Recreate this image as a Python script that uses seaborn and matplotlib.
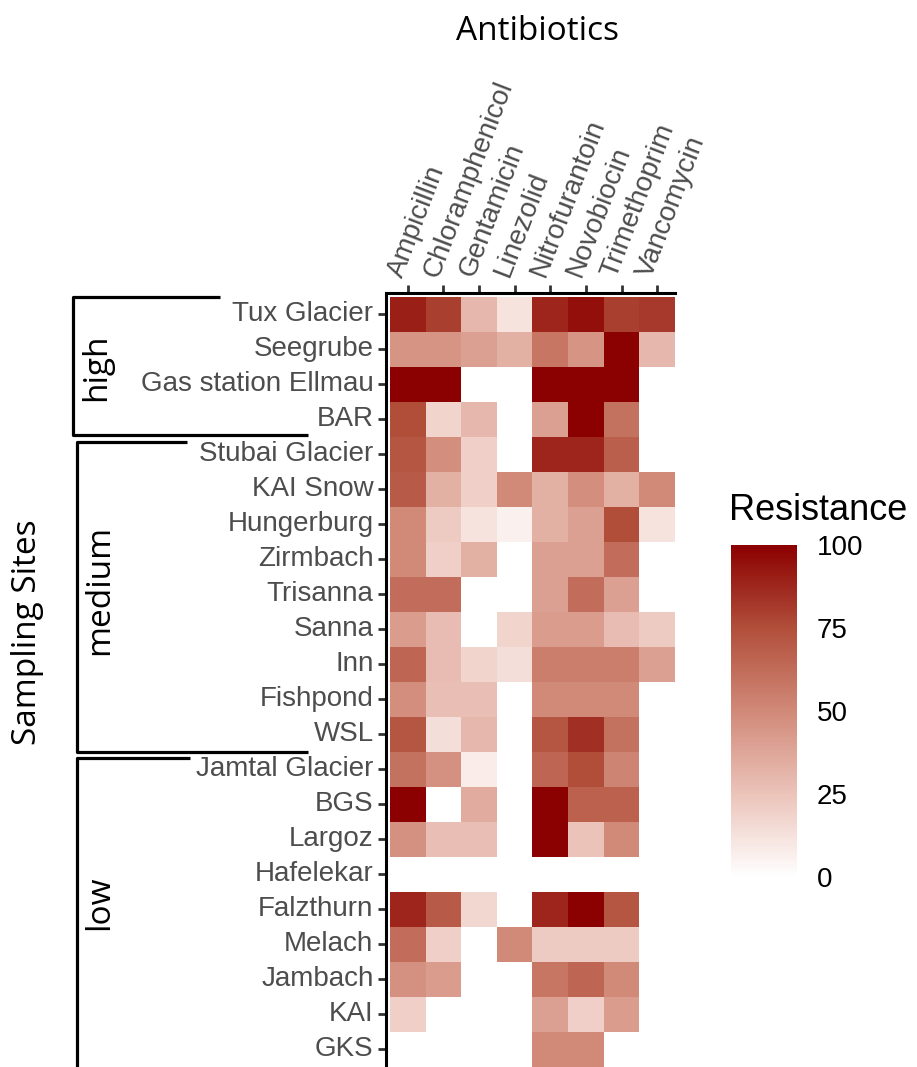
import matplotlib
matplotlib.use("Agg")
import matplotlib.pyplot as plt
from matplotlib.colors import LinearSegmentedColormap
from matplotlib.lines import Line2D
import seaborn as sns
import pandas as pd

# data (percent resistant isolates)
sites = ["Tux Glacier", "Seegrube", "Gas station Ellmau", "BAR", "Stubai Glacier",
         "KAI Snow", "Hungerburg", "Zirmbach", "Trisanna", "Sanna", "Inn", "Fishpond",
         "WSL", "Jamtal Glacier", "BGS", "Largoz", "Hafelekar", "Falzthurn", "Melach",
         "Jambach", "KAI", "GKS"]
antibiotics = ["Ampicillin", "Chloramphenicol", "Gentamicin", "Linezolid",
               "Nitrofurantoin", "Novobiocin", "Trimethoprim", "Vancomycin"]

ampicillin = [90, 45, 100, 75, 72, 70, 50, 50, 62, 42, 65, 48, 72, 60, 100, 47, 0, 88, 62, 47, 20, 0]
chloramphenicol = [80, 45, 100, 18, 48, 33, 22, 20, 62, 28, 28, 27, 14, 47, 0, 27, 0, 70, 20, 42, 0, 0]
gentamicin = [30, 40, 0, 30, 20, 20, 12, 33, 0, 0, 18, 27, 30, 8, 35, 27, 0, 17, 0, 0, 0, 0]
linezolid = [12, 33, 0, 0, 0, 50, 6, 0, 0, 18, 14, 0, 0, 0, 0, 0, 0, 0, 50, 0, 0, 0]
nitrofurantoin = [88, 58, 100, 40, 88, 33, 33, 40, 40, 42, 55, 50, 72, 65, 100, 100, 0, 88, 22, 58, 40, 50]
novobiocin = [95, 45, 100, 100, 88, 48, 40, 40, 62, 42, 55, 50, 85, 75, 67, 25, 0, 100, 22, 65, 20, 50]
trimethoprim = [80, 100, 100, 60, 68, 33, 75, 62, 40, 28, 55, 50, 60, 52, 67, 50, 0, 72, 22, 50, 42, 0]
vancomycin = [82, 30, 0, 0, 0, 50, 12, 0, 0, 22, 40, 0, 0, 0, 0, 0, 0, 0, 0, 0, 0, 0]

groups = ["high", "medium", "low"]

df = pd.DataFrame({
    "Ampicillin": ampicillin,
    "Chloramphenicol": chloramphenicol,
    "Gentamicin": gentamicin,
    "Linezolid": linezolid,
    "Nitrofurantoin": nitrofurantoin,
    "Novobiocin": novobiocin,
    "Trimethoprim": trimethoprim,
    "Vancomycin": vancomycin,
}, index=sites)[antibiotics]

# white -> darkred, interpolated in Lab like ggplot
cmap = LinearSegmentedColormap.from_list(
    "res", [(0, "#FFFFFF"), (0.25, "#EBC3B9"), (0.5, "#D18978"), (0.75, "#B14F3B"), (1, "#8B0000")])

W, H = 917, 1067
fig = plt.figure(figsize=(W / 100, H / 100), dpi=100)
sns.set_style("white")
plt.rcParams["font.family"] = ["Liberation Sans", "DejaVu Sans"]

ax = fig.add_axes([386 / W, 0, 289 / W, 774 / H])
cax = fig.add_axes([731 / W, 1 - 877 / H, 66 / W, 332 / H])

sns.heatmap(df, cmap=cmap, vmin=0, vmax=100, ax=ax, cbar_ax=cax,
            cbar_kws={"ticks": [0, 25, 50, 75, 100]})
ax.set_xlim(-0.11, 8)
ax.set_ylim(22, -0.11)

for side in ["top", "left"]:
    ax.spines[side].set_visible(True)
    ax.spines[side].set_color("black")
    ax.spines[side].set_linewidth(2.2)
ax.spines["right"].set_visible(False)
ax.spines["bottom"].set_visible(False)

ax.xaxis.tick_top()
ax.tick_params(axis="both", length=6, width=2, color="#333333", labelsize=20,
               labelcolor="#4D4D4D", pad=3)
ax.tick_params(axis="x", top=True, bottom=False)
ax.tick_params(axis="y", left=True, right=False)
ax.set_yticklabels(sites, rotation=0)
ax.set_xticklabels(antibiotics, rotation=69, ha="left", va="bottom", rotation_mode="anchor")
ax.set_xlabel("")
ax.set_ylabel("")

# colourbar styling
cb = ax.collections[0].colorbar
cb.outline.set_visible(False)
cax.tick_params(direction="in", color="white", length=8, width=1.5, left=True, right=True,
                labelsize=20, labelcolor="black", pad=14)
fig.text(729 / W, 1 - 510 / H, "Resistance", fontsize=26, color="black",
         ha="left", va="center")

# titles
title_font = ["Open Sans", "DejaVu Sans"]
fig.text(537 / W, 1 - 32 / H, "Antibiotics", fontsize=24, family=title_font,
         color="black", ha="center", va="center")
fig.text(28 / W, 1 - 632 / H, "Sampling Sites", fontsize=24, family=title_font,
         color="black", rotation=90, ha="center", va="center")

# group brackets
def fline(xs, ys):
    fig.add_artist(Line2D([x / W for x in xs], [1 - y / H for y in ys],
                          color="black", lw=2.3, solid_capstyle="butt"))

fline([220, 73, 73, 308], [297, 297, 435, 435])
fline([187, 77, 77, 308], [442, 442, 752, 752])
fline([190, 77, 77], [758, 758, 1070])

label_pos = [(97, 367), (100, 590), (100, 903)]
for g, (x, y) in zip(groups, label_pos):
    fig.text(x / W, 1 - y / H, g, fontsize=24, family=title_font, color="black",
             rotation=90, ha="center", va="center")

fig.savefig("out.png", dpi=100)
